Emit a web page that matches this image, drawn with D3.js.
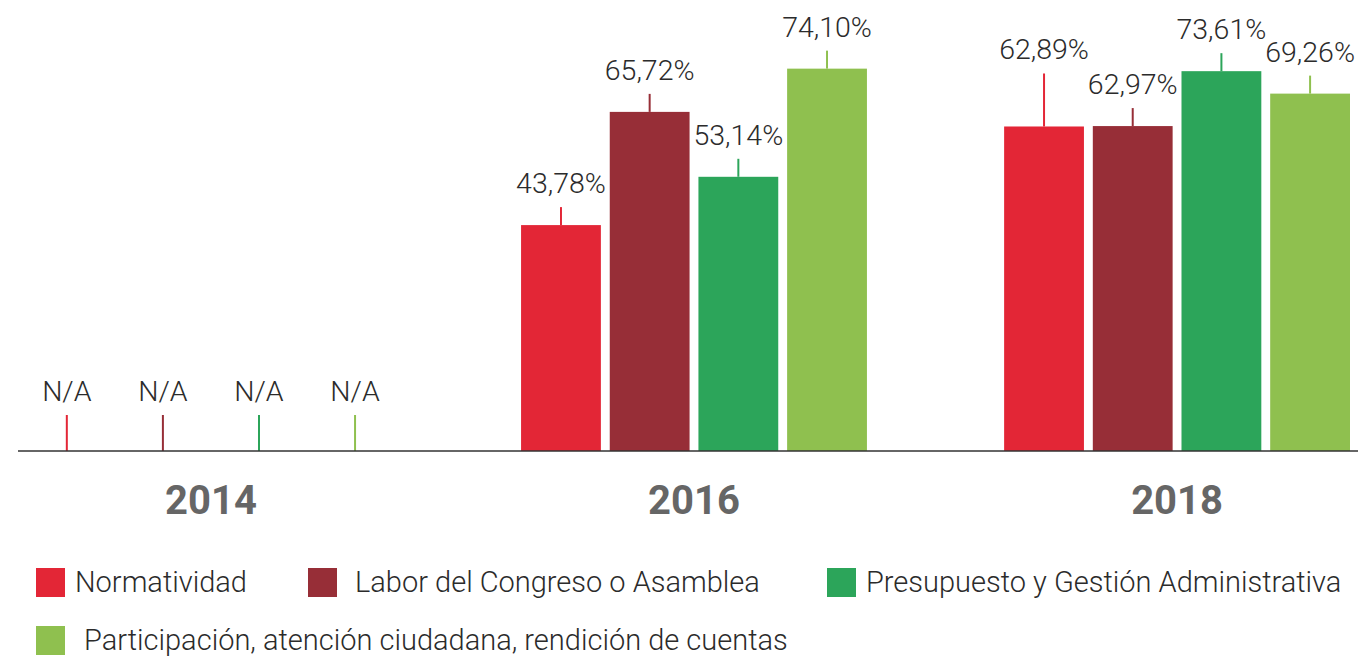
<!DOCTYPE html>
<html>
<head>
<meta charset="utf-8">
<script src="https://cdn.jsdelivr.net/npm/d3@7"></script>
<style>
  body { margin: 0; background: #fff; }
  text { font-family: Roboto, "Noto Sans", sans-serif; }
  .val { font-weight: 300; font-size: 28.5px; fill: #2b2b2b; }
  .year { font-weight: 700; font-size: 40px; fill: #666; }
  .leg { font-weight: 300; font-size: 29px; fill: #2b2b2b; }
</style>
</head>
<body>
<script>
(function(){

    //chart data
    var years = ["2014", "2016", "2018"];
    var series = ["Normatividad", "Labor del Congreso o Asamblea", "Presupuesto y Gestión Administrativa", "Participación, atención ciudadana, rendición de cuentas"];
    var colors = ["#e32636", "#972e37", "#2ca55a", "#8fc04f"];
    var values2014 = [null, null, null, null]; //N/A
    var values2016 = [43.78, 65.72, 53.14, 74.10];
    var values2018 = [62.89, 62.97, 73.61, 69.26];
    var valuesByYear = [values2014, values2016, values2018];

    var width = 1358, height = 659;
    var baseY = 451;

    var svg = d3.select("body")
        .append("svg")
        .attr("width", width)
        .attr("height", height);

    //outer scale - year groups
    var x0 = d3.scaleBand()
        .domain(years)
        .range([38, 1350])
        .paddingInner(0.284)
        .paddingOuter(0);

    //inner scale - series within a group
    var x1 = d3.scaleBand()
        .domain(d3.range(series.length))
        .range([0, x0.bandwidth()])
        .paddingInner(0.1);

    //N/A markers are spread a little wider than bars
    var xNA = d3.scalePoint()
        .domain(d3.range(series.length))
        .range([0, x0.bandwidth()])
        .padding(0.3);

    var y = d3.scaleLinear()
        .domain([0, 100])
        .range([baseY, baseY - 516]);

    //flatten to one record per bar
    var rows = [];
    years.forEach(function(yr, i){
        valuesByYear[i].forEach(function(v, s){
            rows.push({year: yr, s: s, v: v});
        });
    });

    //leader line length above each bar (longer one for the crowded 2018 label)
    function leaderLen(d){
        if (d.v === null) return 36;
        if (d.year === "2018" && d.s === 0) return 53;
        return 18;
    }
    function cx(d){
        if (d.v === null) return x0(d.year) + xNA(d.s);
        return x0(d.year) + x1(d.s) + x1.bandwidth() / 2;
    }

    var g = svg.append("g");

    g.selectAll(".bar")
        .data(rows.filter(function(d){ return d.v !== null; }))
        .enter()
        .append("rect")
        .attr("class", "bar")
        .attr("x", function(d){ return x0(d.year) + x1(d.s); })
        .attr("y", function(d){ return y(d.v); })
        .attr("width", x1.bandwidth())
        .attr("height", function(d){ return baseY - y(d.v); })
        .attr("fill", function(d){ return colors[d.s]; });

    //leader lines
    g.selectAll(".lead")
        .data(rows)
        .enter()
        .append("line")
        .attr("x1", cx)
        .attr("x2", cx)
        .attr("y1", function(d){ return y(d.v || 0); })
        .attr("y2", function(d){ return y(d.v || 0) - leaderLen(d); })
        .attr("stroke", function(d){ return colors[d.s]; })
        .attr("stroke-width", 2);

    //value labels
    var fmt = function(v){ return v === null ? "N/A" : v.toFixed(2).replace(".", ",") + "%"; };
    g.selectAll(".val")
        .data(rows)
        .enter()
        .append("text")
        .attr("class", "val")
        .attr("text-anchor", "middle")
        .attr("x", cx)
        .attr("y", function(d){ return y(d.v || 0) - leaderLen(d) - 14; })
        .text(function(d){ return fmt(d.v); });

    //baseline
    svg.append("line")
        .attr("x1", 18).attr("x2", width)
        .attr("y1", baseY).attr("y2", baseY)
        .attr("stroke", "#333")
        .attr("stroke-width", 1.5);

    //year labels
    svg.selectAll(".year")
        .data(years)
        .enter()
        .append("text")
        .attr("class", "year")
        .attr("text-anchor", "middle")
        .attr("x", function(d){ return x0(d) + x0.bandwidth() / 2; })
        .attr("y", 514)
        .text(function(d){ return d; });

    //legend
    var legPos = [[36, 568, 75], [308, 568, 355], [827, 568, 866], [36, 626, 84]];
    var leg = svg.selectAll(".legItem")
        .data(series)
        .enter()
        .append("g")
        .attr("class", "legItem");
    leg.append("rect")
        .attr("x", function(d, i){ return legPos[i][0]; })
        .attr("y", function(d, i){ return legPos[i][1]; })
        .attr("width", 29)
        .attr("height", 29)
        .attr("fill", function(d, i){ return colors[i]; });
    leg.append("text")
        .attr("class", "leg")
        .attr("x", function(d, i){ return legPos[i][2]; })
        .attr("y", function(d, i){ return legPos[i][1] + 24; })
        .text(function(d){ return d; });

})();
</script>
</body>
</html>
